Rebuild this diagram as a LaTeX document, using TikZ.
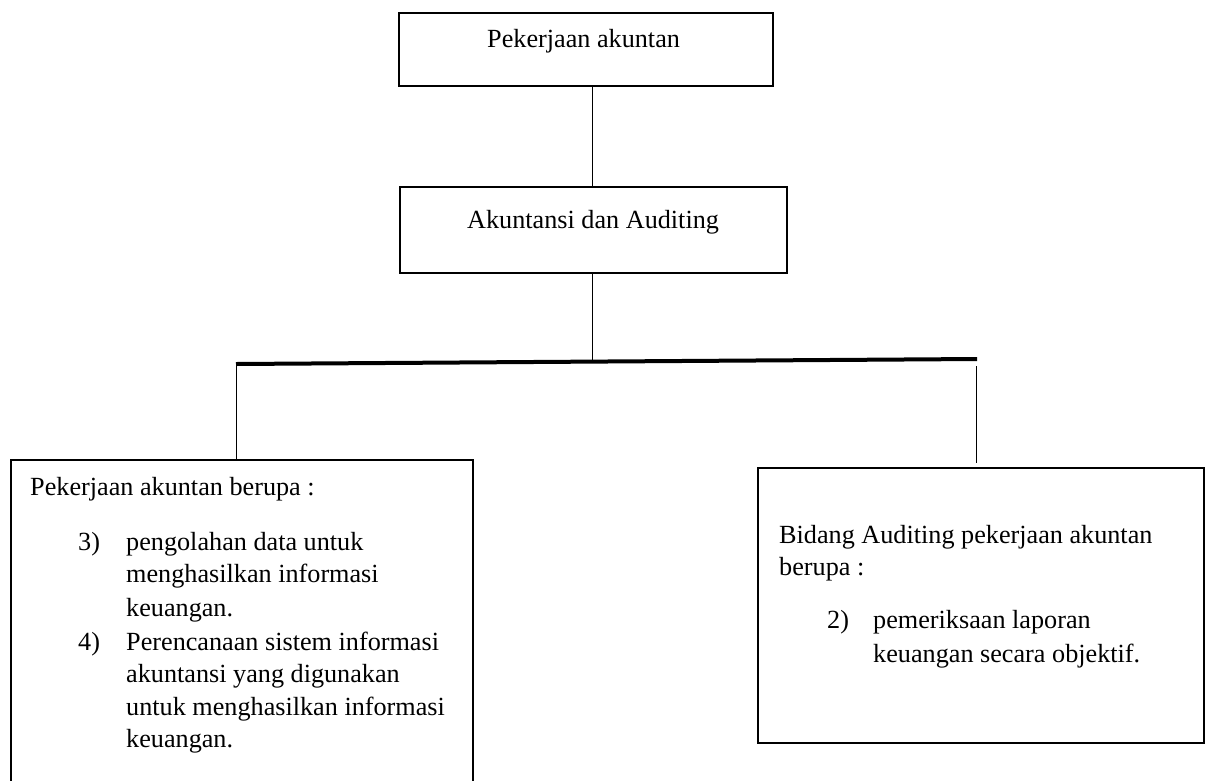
\documentclass[tikz,border=0pt]{standalone}
\usepackage{fontspec}
\setmainfont{Liberation Serif}
\begin{document}
\begin{tikzpicture}[x=1pt,y=-1pt,
  box/.style={draw=black, line width=2.4pt, rectangle, inner sep=0pt, anchor=north west},
  txt/.style={inner sep=0pt, anchor=base west, font=\fontsize{26.2}{32.5}\selectfont},
  conn/.style={draw=black, line width=1pt},
  bar/.style={draw=black, line width=4pt}]
\useasboundingbox (0,0) rectangle (1210,780);
% top boxes
\node[box, minimum width=374pt, minimum height=73pt] (b1) at (398,12) {};
\node[txt] (t1) at (487,47) {Pekerjaan akuntan};
\node[box, minimum width=387pt, minimum height=86pt] (b2) at (399,186) {};
\node[txt] (t2) at (467,228) {Akuntansi dan Auditing};
% lower boxes
\node[box, minimum width=462pt, minimum height=400pt] (lb) at (10,459) {};
\node[box, minimum width=446pt, minimum height=275pt] (rb) at (757,467) {};
% left text
\node[txt] (l0) at (30,495) {Pekerjaan akuntan berupa :};
\node[txt] (l1n) at (78,550) {3)};
\node[txt] (l1a) at (126,550) {pengolahan data untuk};
\node[txt] (l1b) at (126,582) {menghasilkan informasi};
\node[txt] (l1c) at (126,616) {keuangan.};
\node[txt] (l2n) at (78,650) {4)};
\node[txt] (l2a) at (126,650) {Perencanaan sistem informasi};
\node[txt] (l2b) at (126,682) {akuntansi yang digunakan};
\node[txt] (l2c) at (126,715) {untuk menghasilkan informasi};
\node[txt] (l2d) at (126,747) {keuangan.};
% right text
\node[txt] (r0) at (779,543) {Bidang Auditing pekerjaan akuntan};
\node[txt] (r0b) at (779,575) {berupa :};
\node[txt] (r1n) at (827,628) {2)};
\node[txt] (r1a) at (873,628) {pemeriksaan laporan};
\node[txt] (r1b) at (873,662) {keuangan secara objektif.};
% connectors
\coordinate (hl) at (236,364);
\coordinate (hm) at (592,362);
\coordinate (hr) at (977,359);
\coordinate (rt) at (976,366);
\coordinate (rbt) at (976,463);
\draw[conn] (hm |- b1.south) -- (hm |- b2.north);
\draw[conn] (hm |- b2.south) -- (hm);
\draw[bar] (hl) -- (hr);
\draw[conn] (hl) -- (hl |- lb.north);
\draw[conn] (rt) -- (rbt);
\end{tikzpicture}
\end{document}
